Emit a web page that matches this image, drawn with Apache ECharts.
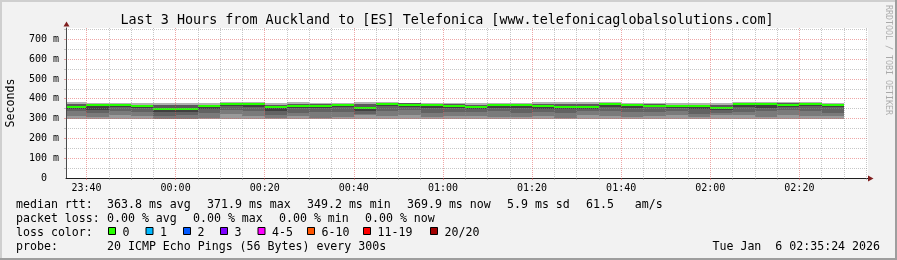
<!DOCTYPE html>
<html><head><meta charset="utf-8">
<script src="https://cdn.jsdelivr.net/npm/echarts@6/dist/echarts.min.js"></script>
<style>html,body{margin:0;padding:0;background:#f2f2f2}#c{width:897px;height:260px}</style>
</head><body><div id="c"></div>
<script>
// ---------------- data ----------------
const barEnd = ['23:40','23:45','23:50','23:55','00:00','00:05','00:10','00:15','00:20','00:25','00:30','00:35',
  '00:40','00:45','00:50','00:55','01:00','01:05','01:10','01:15','01:20','01:25','01:30','01:35',
  '01:40','01:45','01:50','01:55','02:00','02:05','02:10','02:15','02:20','02:25','02:30'];
// smoke levels (ms), bottom to top
const pingMin    = [296,297,297,298,297,297,298,296,296,297,297,297,297,297,297,297,297,297,297,298,298,297,298,298,297,298,298,298,297,296,297,297,297,297,297];
const lowerLight = [312,310,316,312,300,300,305,325,315,305,312,305,310,318,312,320,310,312,315,310,310,312,305,320,312,310,315,320,308,318,318,310,318,315,312];
const lowerMid   = [338,330,340,332,315,318,330,345,340,320,330,335,335,325,340,345,330,335,332,338,330,335,330,338,340,335,335,340,325,330,335,340,345,338,330];
const lowerDark  = [350,345,358,352,335,335,350,362,360,340,352,355,358,340,362,360,352,355,350,355,355,350,348,350,360,354,356,352,348,342,360,355,360,362,358];
const medianRtt  = [360,366,368,364,350,349.2,361,371,371,357,364,364,368,355,371,370,367,364,360,367,367,361,360,360,371.9,366,365,362,361,352,371,371,368,371,369.9];
const upperBand  = [374,372,374,370,366,366,368,376,376,368,372,372,374,372,376,376,374,372,370,375,375,372,375,372,377,373,372,370,370,366,377,376,376,376,375];
const pingMax    = [383,381,380,379,379,379,380,383,383,380,384,381,381,384,382,381,381,381,380,381,381,384,386,385,382,381,380,380,381,379,382,383,382,382,381];
const lossPerBar = [0,0,0,0,0,0,0,0,0,0,0,0,0,0,0,0,0,0,0,0,0,0,0,0,0,0,0,0,0,0,0,0,0,0,0];

const xMajorLabels = ['23:40','00:00','00:20','00:40','01:00','01:20','01:40','02:00','02:20'];
const yMajorLabels = [0,100,200,300,400,500,600,700];
const yMinorTicks  = [50,150,250,350,450,550,650,750];

const rttStats  = [363.8, 371.9, 349.2, 369.9]; // avg max min now
const rttSd     = 5.9;
const amPerS    = 61.5;
const lossStats = [0, 0, 0, 0];                 // avg max min now
const lossBuckets = ['0','1','2','3','4-5','6-10','11-19','20/20'];
const lossColors  = ['#26ff00','#00b8ff','#0059ff','#7e00ff','#ff00ff','#ff5500','#ff0000','#a10000'];
const rangeStart = '23:35:24', rangeEnd = '02:35:24';
const stepMin = 5;

// ---------------- helpers ----------------
function toMin(s){ const p=s.split(':').map(Number); let h=p[0]; let m=h*60+p[1]+(p[2]||0)/60; if(h<12) m+=1440; return m; }
function pad(n){ return (n<10?'0':'')+n; }
function fmtTime(v){ let m=((Math.round(v)%1440)+1440)%1440; return pad(Math.floor(m/60))+':'+pad(m%60); }
function lossIndex(l){ if(l<=3) return l; if(l<=5) return 4; if(l<=10) return 5; if(l<=19) return 6; return 7; }

const X_MIN = toMin(rangeStart), X_MAX = toMin(rangeEnd);
const Y_MAX = 757;
const xMajorVals = xMajorLabels.map(toMin);
const xMinorVals = [];
for (let t = Math.ceil(X_MIN/stepMin)*stepMin; t < X_MAX; t += stepMin) { if (xMajorVals.indexOf(t) < 0) xMinorVals.push(t); }

const data = barEnd.map((t,i)=>[toMin(t), pingMin[i], lowerLight[i], lowerMid[i], lowerDark[i], medianRtt[i], upperBand[i], pingMax[i], lossPerBar[i]]);
const bandColors = ['#9a9a9a','#7a7a7a','#626262','#404040','#5a5a5a','#b2b2b2'];

const GRID_GRAY = 'rgba(143,143,143,0.5)';
const GRID_RED  = 'rgba(222,79,79,0.5)';
const MONO = '"DejaVu Sans Mono", monospace';

function renderSmoke(params, api){
  const cs = params.coordSys;
  const tEnd = api.value(0);
  let x0 = Math.round(api.coord([tEnd - stepMin, 0])[0]);
  let x1 = Math.round(api.coord([tEnd, 0])[0]);
  x0 = Math.max(x0, Math.round(cs.x));
  x1 = Math.min(x1, Math.round(cs.x + cs.width));
  const ys = [];
  for (let d = 1; d <= 7; d++) ys.push(Math.round(api.coord([tEnd, api.value(d)])[1]));
  const children = [];
  for (let k = 0; k < 6; k++) {
    children.push({type:'rect', shape:{x:x0, y:ys[k+1], width:x1-x0, height:ys[k]-ys[k+1]}, style:{fill:bandColors[k]}});
  }
  const ym = ys[4];
  children.push({type:'rect', shape:{x:x0, y:ym-1, width:x1-x0, height:2}, style:{fill:lossColors[lossIndex(api.value(8))]}});
  return {type:'group', children};
}

// ---------------- graphics (text/frame) ----------------
const graphics = [];
function txt(s, x, y, opt){
  opt = opt || {};
  graphics.push({type:'text', z:30, x:x, y:y, rotation:opt.rotation||0, silent:true,
    style:{text:s, x:0, y:0, font:(opt.size||11.6)+'px '+MONO, fill:opt.fill||'#000',
      textAlign:opt.align||'left', textVerticalAlign:'middle'}});
}
// frame
graphics.push({type:'rect', z:30, silent:true, shape:{x:0,y:0,width:897,height:2}, style:{fill:'#cfcfcf'}});
graphics.push({type:'rect', z:30, silent:true, shape:{x:0,y:0,width:2,height:260}, style:{fill:'#cfcfcf'}});
graphics.push({type:'rect', z:30, silent:true, shape:{x:895,y:0,width:2,height:260}, style:{fill:'#9e9e9e'}});
graphics.push({type:'rect', z:30, silent:true, shape:{x:0,y:258,width:897,height:2}, style:{fill:'#9e9e9e'}});
// arrows
graphics.push({type:'polygon', z:30, silent:true, shape:{points:[[868,175.5],[873.5,178.5],[868,181.5]]}, style:{fill:'#801f1f'}});
graphics.push({type:'polygon', z:30, silent:true, shape:{points:[[63.5,26.5],[66.5,21.5],[69.5,26.5]]}, style:{fill:'#801f1f'}});
// title
txt('Last 3 Hours from Auckland to [ES] Telefonica [www.telefonicaglobalsolutions.com]', 447, 20.5, {size:13.4, align:'center'});
// watermark
txt('RRDTOOL / TOBI OETIKER', 888, 5, {size:8.3, rotation:-Math.PI/2, fill:'rgba(0,0,0,0.3)'});
// y axis title
txt('Seconds', 11, 103, {rotation:Math.PI/2, align:'center'});
// legend
const L1 = 204.5, L2 = 218.8, L3 = 232.8, L4 = 246.8;
txt('median rtt:', 16, L1);
const rttNames = ['avg','max','min','now'];
const rttX = [107, 207, 307, 407];
rttStats.forEach((v,k)=>txt(v.toFixed(1)+' ms '+rttNames[k], rttX[k], L1));
txt(rttSd.toFixed(1)+' ms sd', 507, L1);
txt(amPerS.toFixed(1)+'   am/s', 586, L1);
txt('packet loss:', 16, L2);
const lossX = [107, 193, 279, 365];
lossStats.forEach((v,k)=>txt(v.toFixed(2)+' % '+rttNames[k], lossX[k], L2));
txt('loss color:', 16, L3);
const boxX = [108, 145.5, 183, 220, 257.5, 307, 363, 430];
lossBuckets.forEach((b,k)=>{
  graphics.push({type:'rect', z:30, silent:true, shape:{x:boxX[k]+0.5, y:227.5, width:7, height:7},
    style:{fill:lossColors[k], stroke:'#000', lineWidth:1}});
  txt(b, boxX[k]+14.5, L3);
});
txt('probe:', 16, L4);
txt('20 ICMP Echo Pings (56 Bytes) every 300s', 107, L4);
txt('Tue Jan  6 02:35:24 2026', 880, L4, {align:'right'});

// ---------------- chart ----------------
const chart = echarts.init(document.getElementById('c'), null, {renderer:'canvas', width:897, height:260});
const axisFont = {fontFamily:MONO, fontSize:10, color:'#000'};
chart.setOption({
  animation:false,
  backgroundColor:'#f2f2f2',
  grid:{left:66, right:29, top:28, bottom:82, show:true, backgroundColor:'#ffffff', borderWidth:0, containLabel:false, outerBoundsMode:'none'},
  xAxis:[
    {type:'value', min:X_MIN, max:X_MAX, z:10,
      axisLine:{show:true, onZero:false, lineStyle:{color:'#1f1f1f', width:1}},
      axisTick:{show:true, customValues:xMajorVals, length:2, lineStyle:{color:GRID_RED}},
      axisLabel:Object.assign({show:true, customValues:xMajorVals, formatter:fmtTime, margin:5}, axisFont),
      splitLine:{show:true, lineStyle:{color:GRID_RED, type:[1,1], width:1}}},
    {type:'value', min:X_MIN, max:X_MAX, z:10, position:'bottom',
      axisLine:{show:false},
      axisTick:{show:true, customValues:xMinorVals, length:2, lineStyle:{color:GRID_GRAY}},
      axisLabel:{show:false},
      splitLine:{show:true, lineStyle:{color:GRID_GRAY, type:[1,1], width:1}}}
  ],
  yAxis:[
    {type:'value', min:0, max:Y_MAX, z:10,
      axisLine:{show:true, onZero:false, lineStyle:{color:'#4a4a4a', width:1}},
      axisTick:{show:true, customValues:yMajorLabels.filter(v=>v>0), length:2, lineStyle:{color:GRID_RED}},
      axisLabel:Object.assign({show:true, customValues:yMajorLabels, margin:7,
        formatter:v=>v===0?'0  ':v+' m'}, axisFont),
      splitLine:{show:true, lineStyle:{color:GRID_RED, type:[1,1], width:1}}},
    {type:'value', min:0, max:Y_MAX, z:10, position:'left',
      axisLine:{show:false},
      axisTick:{show:true, customValues:yMinorTicks, length:2, lineStyle:{color:GRID_GRAY}},
      axisLabel:{show:false},
      splitLine:{show:true, lineStyle:{color:GRID_GRAY, type:[1,1], width:1}}}
  ],
  series:[{type:'custom', silent:true, xAxisIndex:0, yAxisIndex:0, renderItem:renderSmoke, data:data,
    encode:{x:0, y:[1,2,3,4,5,6,7]}}],
  graphic:graphics
});
</script></body></html>
